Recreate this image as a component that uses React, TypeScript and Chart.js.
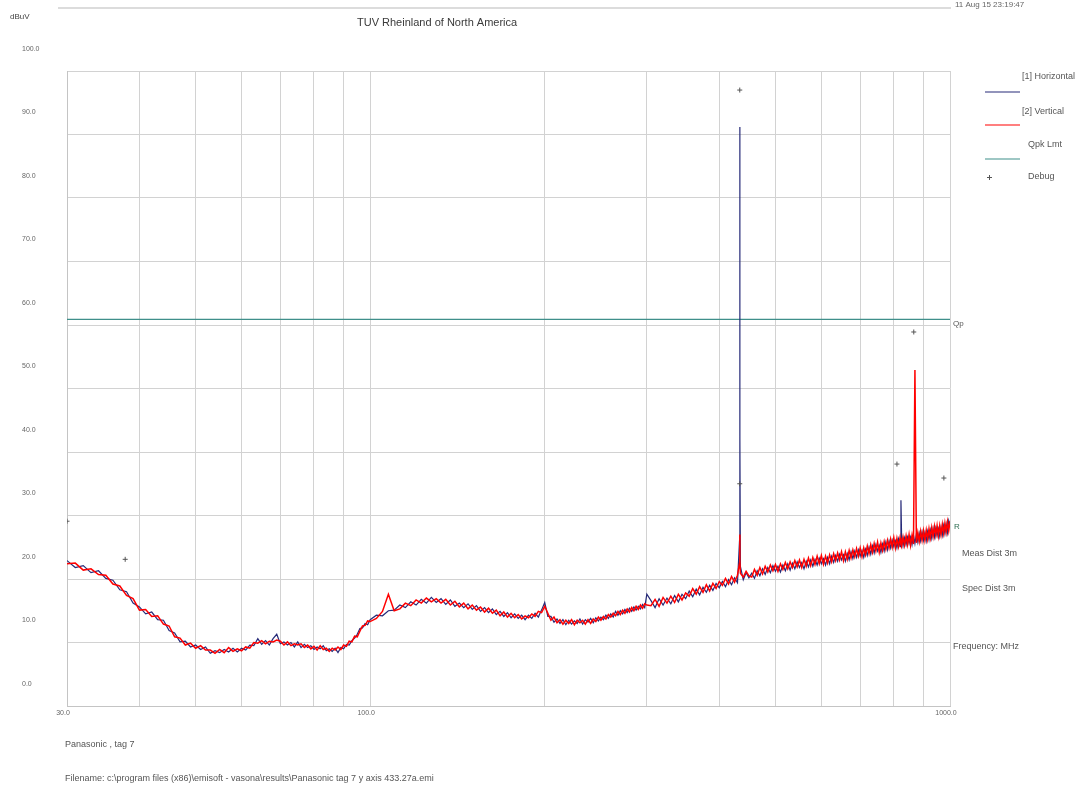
import React, { useEffect, useRef } from "react";
import { Chart, registerables } from "chart.js";

Chart.register(...registerables);

const FONT = "'Liberation Sans', Arial, Helvetica, sans-serif";

// ---- Data: frequencies (MHz) and levels (dBuV) ----
const FREQ_A = [
  30, 31, 32, 33, 34, 35, 36, 37, 38, 39, 40, 41, 42, 43, 44, 45, 46, 47, 48, 49,
  50, 51, 52, 53, 54, 55, 56, 57, 58, 59, 60, 61, 62, 63, 64, 65, 66, 67, 68, 69,
  70, 71, 72, 73, 74, 75, 76, 77, 78, 79, 80, 81, 82, 83, 84, 85, 86, 87, 88, 89,
  90, 91, 92, 93, 94, 95, 96, 97, 98, 99, 100,
];
const H_A = [
  22.9, 21.8, 22.1, 21.0, 21.3, 20.1, 19.8, 18.3, 18.0, 16.2, 15.6, 14.5, 14.8, 13.6, 13.5, 11.9, 11.5, 10.1, 10.2, 9.3,
  9.6, 8.9, 9.3, 8.3, 8.7, 8.4, 8.9, 8.5, 9.1, 8.5, 9.1, 8.8, 9.6, 9.5, 10.6, 9.7, 10.3, 9.6, 10.6, 11.3,
  9.8, 10.1, 9.6, 10.0, 9.3, 10.1, 9.2, 9.7, 9.2, 9.5, 8.9, 9.3, 9.0, 9.5, 8.7, 9.0, 8.6, 9.1, 8.4, 9.2,
  9.0, 9.7, 9.6, 10.3, 10.7, 11.3, 12.2, 12.3, 13.0, 12.8, 13.6,
];
const V_A = [
  22.4, 22.5, 21.4, 21.6, 20.7, 20.6, 19.2, 18.9, 17.4, 16.9, 15.1, 15.2, 14.1, 14.2, 12.9, 12.6, 10.9, 10.7, 9.6, 9.9,
  9.1, 9.5, 8.8, 8.8, 8.3, 8.9, 8.4, 9.2, 8.6, 9.0, 8.7, 9.3, 9.1, 10.0, 9.9, 10.3, 9.8, 10.2, 10.1, 10.4,
  10.2, 9.6, 10.1, 9.5, 9.8, 9.6, 9.8, 9.2, 9.6, 9.0, 9.4, 8.8, 9.5, 8.9, 9.1, 8.6, 9.1, 8.8, 9.3, 8.9,
  9.6, 9.4, 10.2, 10.1, 11.0, 10.9, 11.8, 12.6, 12.7, 13.4, 13.3,
];

const FREQ_B = [
  102.5, 105, 107.5, 110, 112.5, 115, 117.5, 120, 122.5, 125,
  127.5, 130, 132.5, 135, 137.5, 140, 142.5, 145, 147.5, 150,
  152.5, 155, 157.5, 160, 162.5, 165, 167.5, 170, 172.5, 175,
  177.5, 180, 182.5, 185, 187.5, 190, 192.5, 195, 197.5, 200,
  202.5, 205, 207.5, 210, 212.5, 215, 217.5, 220, 222.5, 225,
  227.5, 230, 232.5, 235, 237.5, 240, 242.5, 245, 247.5, 250,
  252.5, 255, 257.5, 260, 262.5, 265, 267.5, 270, 272.5, 275,
  277.5, 280, 282.5, 285, 287.5, 290, 292.5, 295, 297.5, 300,
];
const H_B = [
  14.3, 14.2, 15.0, 15.1, 15.9, 15.5, 16.4, 15.9, 16.8, 16.2,
  17.1, 16.3, 16.9, 16.0, 16.7, 15.7, 16.2, 15.5, 16.1, 15.2,
  15.8, 14.9, 15.5, 14.7, 15.3, 14.4, 14.9, 14.1, 14.7, 13.9,
  14.5, 13.8, 14.3, 13.6, 14.3, 13.8, 14.6, 14.0, 15.1, 16.3,
  14.1, 14.1, 13.2, 13.7, 13.0, 13.6, 12.8, 13.5, 12.9, 13.4,
  13.0, 13.7, 12.9, 13.6, 13.2, 13.8, 13.1, 13.9, 13.4, 14.0,
  13.6, 14.3, 13.8, 14.5, 14.0, 14.9, 14.3, 15.0, 14.5, 15.2,
  14.7, 15.4, 14.9, 15.6, 15.1, 15.7, 15.3, 16.0, 15.5, 17.6,
];
const V_B = [
  13.8, 14.9, 17.6, 15.0, 15.3, 16.2, 15.8, 16.7, 16.2, 17.0,
  16.4, 16.9, 16.2, 16.8, 15.9, 16.5, 15.6, 16.2, 15.3, 15.9,
  15.1, 15.6, 14.8, 15.4, 14.6, 15.1, 14.2, 14.8, 14.0, 14.6,
  13.9, 14.4, 13.7, 14.2, 13.9, 14.5, 14.1, 14.9, 14.7, 15.7,
  14.6, 13.5, 14.0, 13.1, 13.6, 12.9, 13.5, 13.0, 13.6, 12.8,
  13.5, 13.1, 13.5, 12.9, 13.6, 13.0, 13.7, 13.3, 14.0, 13.5,
  14.1, 13.7, 14.4, 14.0, 14.6, 14.2, 14.9, 14.4, 15.1, 14.6,
  15.3, 14.8, 15.5, 15.0, 15.7, 15.2, 15.9, 15.4, 16.1, 15.9,
];

const FREQ_C = [
  305, 310, 315, 320, 325, 330, 335, 340, 345, 350,
  355, 360, 365, 370, 375, 380, 385, 390, 395, 400,
  405, 410, 415, 420, 425, 430,
  433.5, 433.92, 434.3,
  435, 440, 445, 450,
  455, 460, 465, 470, 475, 480, 485, 490, 495, 500,
  505, 510, 515, 520, 525, 530, 535, 540, 545, 550,
  555, 560, 565, 570, 575, 580, 585, 590, 595, 600,
  605, 610, 615, 620, 625, 630, 635, 640, 645, 650,
  655, 660, 665, 670, 675, 680, 685, 690, 695, 700,
  705, 710, 715, 720, 725, 730, 735, 740, 745, 750,
  755, 760, 765, 770, 775, 780, 785, 790, 795, 800,
  805, 810, 815, 820,
  823,
  825, 830, 835, 840, 845, 850,
  855, 860, 865, 870, 875, 880, 885, 890, 895, 900,
  905, 910, 915, 920, 925, 930, 935, 940, 945, 950,
  955, 960, 965, 970, 975, 980, 985, 990, 995, 1000,
];
const H_C = [
  16.6, 15.5, 16.9, 15.9, 17.0, 16.1, 17.4, 16.4, 17.6, 16.9,
  18.1, 17.2, 18.4, 17.5, 18.7, 17.9, 19.0, 18.2, 19.3, 18.6,
  19.6, 18.8, 19.9, 19.1, 20.2, 19.4,
  26.0, 91.2, 42.4,
  22.0, 19.9, 21.0, 20.2,
  20.9, 20.1, 21.3, 20.5, 21.6, 20.7, 21.8, 21.0, 22.1, 21.2,
  22.0, 21.1, 22.2, 21.3, 22.4, 21.4, 22.5, 21.6, 22.7, 21.8,
  22.6, 21.6, 22.8, 21.9, 23.0, 22.0, 23.1, 22.2, 23.3, 22.4,
  23.2, 22.2, 23.4, 22.4, 23.6, 22.6, 23.7, 22.8, 23.9, 23.0,
  23.8, 22.8, 24.0, 23.0, 24.3, 23.2, 24.4, 23.4, 24.6, 23.6,
  24.5, 23.4, 24.7, 23.7, 25.0, 23.9, 25.2, 24.1, 25.4, 24.4,
  25.3, 24.2, 25.5, 24.4, 25.8, 24.6, 26.0, 24.9, 26.1, 25.1,
  26.0, 24.9, 26.3, 25.1,
  32.4,
  27.0, 25.2, 26.5, 25.4, 26.6, 25.6,
  26.6, 25.4, 26.9, 25.6, 27.1, 25.8, 27.2, 26.0, 27.4, 26.1,
  27.3, 26.0, 27.5, 26.2, 27.7, 26.4, 27.9, 26.6, 28.0, 26.8,
  27.9, 26.7, 28.1, 26.9, 28.4, 27.1, 28.6, 27.3, 29.2, 28.4,
];
const V_C = [
  15.8, 16.8, 15.7, 17.1, 16.2, 17.3, 16.3, 17.6, 16.7, 17.8,
  17.3, 18.5, 17.6, 18.8, 17.9, 19.1, 18.1, 19.3, 18.5, 19.6,
  19.0, 20.1, 19.2, 20.4, 19.5, 20.6,
  22.5, 27.0, 23.0,
  20.9, 20.3, 21.2, 20.5,
  20.3, 21.5, 20.6, 21.8, 20.8, 22.0, 21.1, 22.2, 21.3, 22.3,
  21.2, 22.4, 21.5, 22.6, 21.6, 22.7, 21.8, 22.9, 21.9, 23.0,
  21.8, 23.1, 22.0, 23.3, 22.1, 23.4, 22.3, 23.6, 22.4, 23.7,
  22.3, 23.6, 22.5, 23.8, 22.7, 24.0, 22.9, 24.1, 23.0, 24.3,
  22.9, 24.3, 23.1, 24.5, 23.3, 24.6, 23.5, 24.8, 23.6, 24.9,
  23.5, 24.9, 23.8, 25.2, 24.0, 25.4, 24.2, 25.6, 24.4, 25.8,
  24.2, 25.7, 24.5, 25.9, 24.7, 26.1, 24.9, 26.3, 25.0, 26.5,
  24.9, 26.4, 25.1, 26.5,
  25.4,
  25.1, 26.6, 25.3, 26.8, 25.4, 27.0,
  25.3, 26.9, 25.5, 52.9, 25.7, 27.3, 25.9, 27.5, 26.1, 27.6,
  26.1, 27.7, 26.3, 27.9, 26.5, 28.1, 26.7, 28.3, 26.9, 28.4,
  26.8, 28.4, 27.0, 28.6, 27.2, 28.8, 27.4, 29.0, 27.6, 29.1,
];

const LIMIT_FREQ = [30, 1000];
const LIMIT_VAL = [60.9, 60.9];

const DEBUG_FREQ = [30, 37.8, 433.9, 433.9, 810, 866, 976];
const DEBUG_VAL = [29.1, 23.1, 97.0, 35.0, 38.1, 58.9, 35.9];

const X_GRID = [30, 40, 50, 60, 70, 80, 90, 100, 200, 300, 400, 500, 600, 700, 800, 900, 1000];
const X_LABELS = [30, 100, 1000];
const Y_TICKS = [0, 10, 20, 30, 40, 50, 60, 70, 80, 90, 100];

const TITLE = "TUV Rheinland of North America";
const UNIT = "dBuV";
const DATE = "11 Aug 15 23:19:47";
const NOTE_1 = "Panasonic , tag 7";
const NOTE_2 = "Filename: c:\\program files (x86)\\emisoft - vasona\\results\\Panasonic tag 7 y axis 433.27a.emi";
const SIDE_TEXTS = ["Meas Dist 3m", "Spec Dist 3m", "Frequency: MHz"];

const COL_H = "#262a78";
const COL_V = "#ff0000";
const COL_LIM = "#3f8f8a";
const COL_DBG = "#555555";

function toXY(f: number[], v: number[]) {
  const n = Math.min(f.length, v.length);
  const out: { x: number; y: number }[] = [];
  for (let i = 0; i < n; i++) out.push({ x: f[i], y: v[i] });
  return out;
}

export default function App() {
  const ref = useRef<HTMLCanvasElement | null>(null);

  useEffect(() => {
    if (!ref.current) return;
    const overlay = {
      id: "overlay",
      afterDraw(chart: any) {
        const ctx = chart.ctx as CanvasRenderingContext2D;
        ctx.save();
        const txt = (s: string, x: number, y: number, size: number, color = "#555", align: CanvasTextAlign = "left") => {
          ctx.font = `${size}px ${FONT}`;
          ctx.fillStyle = color;
          ctx.textAlign = align;
          ctx.textBaseline = "middle";
          ctx.fillText(s, x, y);
        };
        // top faint rule
        ctx.strokeStyle = "#dcdcdc";
        ctx.lineWidth = 2;
        ctx.beginPath();
        ctx.moveTo(58, 8);
        ctx.lineTo(951, 8);
        ctx.stroke();

        txt(UNIT, 10, 17, 8, "#444");
        txt(TITLE, 357, 23, 11, "#3a3a3a");
        txt(DATE, 955, 5, 8, "#666");

        // limit label & trace end marker
        txt("Qp", 953, 324, 8, "#555");
        txt("R", 954, 527, 8, "#2e6e52");
        txt(SIDE_TEXTS[0], 962, 554, 9, "#555");
        txt(SIDE_TEXTS[1], 962, 589, 9, "#555");
        txt(SIDE_TEXTS[2], 953, 647, 9, "#555");

        // legend
        const leg = [
          { label: "[1] Horizontal", ty: 77, ly: 92, tx: 1022, color: COL_H },
          { label: "[2] Vertical", ty: 112, ly: 125, tx: 1022, color: COL_V },
          { label: "Qpk Lmt", ty: 145, ly: 159, tx: 1028, color: COL_LIM },
        ];
        leg.forEach((l) => {
          txt(l.label, l.tx, l.ty, 9, "#555");
          ctx.strokeStyle = l.color;
          ctx.lineWidth = 1.2;
          ctx.beginPath();
          ctx.moveTo(985, l.ly);
          ctx.lineTo(1020, l.ly);
          ctx.stroke();
        });
        ctx.strokeStyle = COL_DBG;
        ctx.lineWidth = 1;
        ctx.beginPath();
        ctx.moveTo(987, 177.5);
        ctx.lineTo(992, 177.5);
        ctx.moveTo(989.5, 175);
        ctx.lineTo(989.5, 180);
        ctx.stroke();
        txt("Debug", 1028, 177, 9, "#555");

        // bottom notes
        txt(NOTE_1, 65, 745, 9, "#555");
        txt(NOTE_2, 65, 779, 9, "#555");
        ctx.restore();
      },
    };

    const chart = new Chart(ref.current, {
      type: "line",
      data: {
        datasets: [
          {
            label: "Debug",
            data: toXY(DEBUG_FREQ, DEBUG_VAL),
            showLine: false,
            pointStyle: "cross",
            pointRadius: 2.5,
            borderColor: COL_DBG,
            backgroundColor: COL_DBG,
            borderWidth: 1,
            order: 0,
          },
          {
            label: "[2] Vertical",
            data: toXY([...FREQ_A, ...FREQ_B, ...FREQ_C], [...V_A, ...V_B, ...V_C]),
            borderColor: COL_V,
            borderWidth: 1.5,
            pointRadius: 0,
            order: 1,
          },
          {
            label: "[1] Horizontal",
            data: toXY([...FREQ_A, ...FREQ_B, ...FREQ_C], [...H_A, ...H_B, ...H_C]),
            borderColor: COL_H,
            borderWidth: 1.2,
            pointRadius: 0,
            order: 2,
          },
          {
            label: "Qpk Lmt",
            data: toXY(LIMIT_FREQ, LIMIT_VAL),
            borderColor: COL_LIM,
            borderWidth: 1.2,
            pointRadius: 0,
            order: 3,
          },
        ],
      },
      options: {
        animation: false,
        responsive: true,
        maintainAspectRatio: false,
        layout: { padding: { left: 22, top: 71, right: 133, bottom: 63 } },
        plugins: { legend: { display: false }, tooltip: { enabled: false } },
        elements: { line: { tension: 0 } },
        scales: {
          x: {
            type: "logarithmic",
            min: 30,
            max: 1000,
            afterBuildTicks: (axis: any) => {
              axis.ticks = X_GRID.map((v) => ({ value: v }));
            },
            afterFit: (axis: any) => {
              axis.height = 20;
            },
            ticks: {
              autoSkip: false,
              maxRotation: 0,
              minRotation: 0,
              padding: 3,
              labelOffset: -4,
              color: "#666",
              font: { size: 7, family: FONT },
              callback: (v: any) => (X_LABELS.includes(Number(v)) ? Number(v).toFixed(1) : ""),
            },
            grid: { color: "#d2d2d2", lineWidth: 1, drawTicks: false },
            border: { color: "#c4c4c4" },
          },
          y: {
            type: "linear",
            min: 0,
            max: 100,
            afterBuildTicks: (axis: any) => {
              axis.ticks = Y_TICKS.map((v) => ({ value: v }));
            },
            afterFit: (axis: any) => {
              axis.width = 45;
            },
            ticks: {
              crossAlign: "far",
              labelOffset: -22,
              padding: 0,
              color: "#666",
              font: { size: 7, family: FONT },
              callback: (v: any) => Number(v).toFixed(1),
            },
            grid: { color: "#d2d2d2", lineWidth: 1, drawTicks: false },
            border: { color: "#c4c4c4" },
          },
        },
      } as any,
      plugins: [overlay],
    });
    return () => chart.destroy();
  }, []);

  return (
    <div style={{ position: "fixed", left: 0, top: 0, width: 1083, height: 789, background: "#fff" }}>
      <canvas ref={ref} />
    </div>
  );
}
